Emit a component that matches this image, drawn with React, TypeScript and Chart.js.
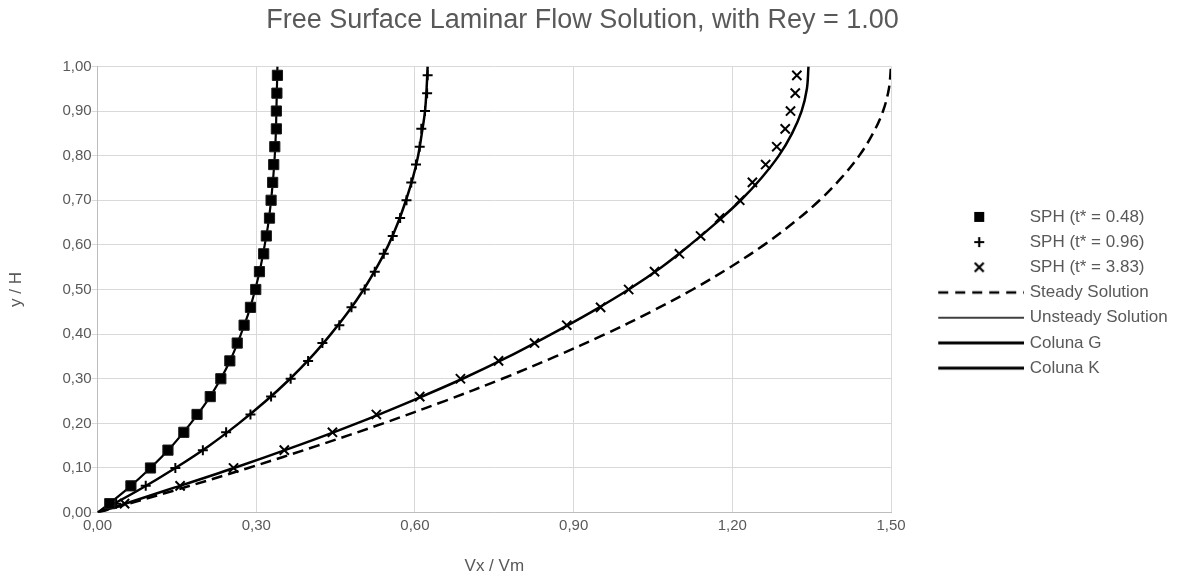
import React, { useEffect, useRef } from 'react';
import { Chart, registerables } from 'chart.js';

Chart.register(...registerables);

// ---- Data ----
const chartTitle = 'Free Surface Laminar Flow Solution, with Rey = 1.00';
const xTitle = 'Vx / Vm';
const yTitle = 'y / H';

const xTicks = [0, 0.3, 0.6, 0.9, 1.2, 1.5];
const yTicks = [0, 0.1, 0.2, 0.3, 0.4, 0.5, 0.6, 0.7, 0.8, 0.9, 1.0];

const etaMarkers = [0.02, 0.06, 0.10, 0.14, 0.18, 0.22, 0.26, 0.30, 0.34, 0.38, 0.42, 0.46, 0.50,
  0.54, 0.58, 0.62, 0.66, 0.70, 0.74, 0.78, 0.82, 0.86, 0.90, 0.94, 0.98];

const sph048 = [0.023, 0.063, 0.100, 0.133, 0.163, 0.188, 0.213, 0.233, 0.250, 0.264, 0.277, 0.289, 0.299,
  0.306, 0.314, 0.319, 0.325, 0.328, 0.331, 0.333, 0.335, 0.338, 0.338, 0.339, 0.340];
const sph096 = [0.035, 0.091, 0.147, 0.199, 0.243, 0.289, 0.328, 0.365, 0.398, 0.425, 0.457, 0.480, 0.505,
  0.524, 0.541, 0.558, 0.572, 0.584, 0.593, 0.602, 0.609, 0.612, 0.619, 0.623, 0.624];
const sph383 = [0.051, 0.156, 0.257, 0.353, 0.444, 0.527, 0.609, 0.686, 0.758, 0.826, 0.887, 0.951, 1.004,
  1.053, 1.100, 1.140, 1.176, 1.214, 1.238, 1.263, 1.284, 1.300, 1.310, 1.319, 1.322];

const etaCurve = [0, 0.05, 0.10, 0.15, 0.20, 0.25, 0.30, 0.35, 0.40, 0.45, 0.50,
  0.55, 0.60, 0.65, 0.70, 0.75, 0.80, 0.85, 0.90, 0.95, 1.00];

const steady = [0, 0.146, 0.285, 0.416, 0.540, 0.656, 0.765, 0.866, 0.960, 1.046, 1.125,
  1.196, 1.260, 1.316, 1.365, 1.406, 1.440, 1.466, 1.485, 1.496, 1.500];
const unsteady = [0, 0.053, 0.100, 0.141, 0.176, 0.207, 0.233, 0.254, 0.271, 0.286, 0.298,
  0.308, 0.316, 0.323, 0.328, 0.332, 0.335, 0.337, 0.338, 0.339, 0.340];
const colunaG = [0, 0.077, 0.147, 0.211, 0.267, 0.318, 0.364, 0.405, 0.441, 0.474, 0.503,
  0.528, 0.550, 0.568, 0.583, 0.596, 0.606, 0.613, 0.619, 0.622, 0.624];
const colunaK = [0, 0.130, 0.258, 0.378, 0.490, 0.593, 0.690, 0.778, 0.858, 0.934, 1.004,
  1.066, 1.120, 1.170, 1.216, 1.255, 1.288, 1.313, 1.331, 1.341, 1.344];

const seriesLabels = ['SPH (t* = 0.48)', 'SPH (t* = 0.96)', 'SPH (t* = 3.83)',
  'Steady Solution', 'Unsteady Solution', 'Coluna G', 'Coluna K'];

// ---- helpers ----
const FONT = "'Liberation Sans', Arial, sans-serif";
const TEXT = '#595959';
const fmt = (v: number) => v.toFixed(2).replace('.', ',');
const pts = (xs: number[], ys: number[]) => xs.map((x, i) => ({ x, y: ys[i] }));

function legendImage(kind: string): HTMLCanvasElement {
  const c = document.createElement('canvas');
  c.width = 90;
  c.height = 18;
  const g = c.getContext('2d')!;
  const cx = 45, cy = 9;
  g.strokeStyle = '#000';
  g.fillStyle = '#000';
  if (kind === 'rect') {
    g.fillRect(cx - 5, cy - 5, 10, 10);
  } else if (kind === 'plus') {
    g.lineWidth = 2.2;
    g.beginPath();
    g.moveTo(cx - 5, cy); g.lineTo(cx + 5, cy);
    g.moveTo(cx, cy - 5); g.lineTo(cx, cy + 5);
    g.stroke();
  } else if (kind === 'x') {
    g.lineWidth = 2.2;
    g.beginPath();
    g.moveTo(cx - 4.5, cy - 4.5); g.lineTo(cx + 4.5, cy + 4.5);
    g.moveTo(cx + 4.5, cy - 4.5); g.lineTo(cx - 4.5, cy + 4.5);
    g.stroke();
  } else {
    g.lineWidth = kind === 'dash' ? 2.5 : kind === 'thin' ? 1.6 : 3;
    if (kind === 'dash') g.setLineDash([10, 7]);
    g.beginPath();
    g.moveTo(4, cy); g.lineTo(90, cy);
    g.stroke();
  }
  return c;
}

// Legend sizing: reserve a fixed right band, then place the legend items inside it.
const LEGEND_BAND = 286;
const LEGEND_OFFSET = 38;
const LEGEND_DROP = 4;
const TITLE_SHIFT = 12;

const legendPlacer = {
  id: 'legendPlacer',
  beforeLayout(chart: any) {
    const lg = chart.legend;
    if (lg && !lg.__patched) {
      const orig = lg.fit.bind(lg);
      lg.fit = function () {
        orig();
        this.width = LEGEND_BAND;
      };
      lg.__patched = true;
    }
  },
  afterLayout(chart: any) {
    const lg = chart.legend;
    if (lg) {
      lg.left = chart.chartArea.right + LEGEND_OFFSET;
      lg.right = lg.left + LEGEND_BAND;
      lg.top += LEGEND_DROP;
      lg.bottom += LEGEND_DROP;
    }
    const tb = chart.titleBlock;
    if (tb) {
      tb.right -= TITLE_SHIFT;
    }
  },
};

export default function App() {
  const ref = useRef<HTMLCanvasElement | null>(null);

  useEffect(() => {
    if (!ref.current) return;
    const imgs = ['rect', 'plus', 'x', 'dash', 'thin', 'thick', 'thick'].map(legendImage);

    const lineDs = (label: string, ys: number[], width: number, dash: number[] = []) => ({
      label,
      data: pts(ys, etaCurve),
      showLine: true,
      borderColor: '#000',
      backgroundColor: '#000',
      borderWidth: width,
      borderDash: dash,
      pointRadius: 0,
      tension: 0.35,
    });

    const chart = new Chart(ref.current, {
      type: 'scatter',
      plugins: [legendPlacer],
      data: {
        datasets: [
          {
            label: seriesLabels[0], data: pts(sph048, etaMarkers), showLine: false,
            pointStyle: 'rect', pointRadius: 7.2, backgroundColor: '#000', borderColor: '#1a1a1a', borderWidth: 1,
          },
          {
            label: seriesLabels[1], data: pts(sph096, etaMarkers), showLine: false,
            pointStyle: 'cross', pointRadius: 5, backgroundColor: '#000', borderColor: '#000', borderWidth: 2,
          },
          {
            label: seriesLabels[2], data: pts(sph383, etaMarkers), showLine: false,
            pointStyle: 'crossRot', pointRadius: 6.5, backgroundColor: '#000', borderColor: '#000', borderWidth: 2,
          },
          lineDs(seriesLabels[3], steady, 2.5, [11, 6]),
          lineDs(seriesLabels[4], unsteady, 2.2),
          lineDs(seriesLabels[5], colunaG, 2.5),
          lineDs(seriesLabels[6], colunaK, 2.5),
        ] as any,
      },
      options: {
        responsive: false,
        animation: false,
        events: [],
        layout: { padding: { left: 0, right: 0, top: 0, bottom: 0 } },
        scales: {
          x: {
            type: 'linear',
            min: 0,
            max: 1.5,
            afterBuildTicks: (s: any) => { s.ticks = xTicks.map((v) => ({ value: v })); },
            grid: { color: '#d9d9d9', drawTicks: false },
            border: { color: '#bdbdbd' },
            ticks: { color: TEXT, font: { family: FONT, size: 15 }, padding: 4, callback: (v: any) => fmt(Number(v)), maxRotation: 0 },
            title: { display: true, text: xTitle, color: TEXT, font: { family: FONT, size: 17 }, padding: { top: 18, bottom: 0 } },
          },
          y: {
            type: 'linear',
            min: 0,
            max: 1,
            afterBuildTicks: (s: any) => { s.ticks = yTicks.map((v) => ({ value: v })); },
            grid: { color: '#d9d9d9', drawTicks: true, tickLength: 6 },
            border: { color: '#bdbdbd' },
            ticks: { color: TEXT, font: { family: FONT, size: 15 }, padding: 0, callback: (v: any) => fmt(Number(v)) },
            title: { display: true, text: yTitle, color: TEXT, font: { family: FONT, size: 17 }, padding: { top: 6, bottom: 36 } },
          },
        } as any,
        plugins: {
          title: {
            display: true,
            text: chartTitle,
            color: TEXT,
            font: { family: FONT, size: 27, weight: 'normal' },
            padding: { top: 4, bottom: 30 },
          },
          legend: {
            display: true,
            position: 'right',
            align: 'center',
            labels: {
              usePointStyle: true,
              pointStyleWidth: 84,
              color: TEXT,
              font: { family: FONT, size: 17 },
              padding: 8.2,
              generateLabels: (ch: any) => {
                const items = Chart.defaults.plugins.legend.labels.generateLabels(ch);
                items.forEach((it: any, i: number) => {
                  it.pointStyle = imgs[i];
                  it.rotation = 0;
                });
                return items;
              },
            },
          },
          tooltip: { enabled: false },
        },
      } as any,
    });
    return () => chart.destroy();
  }, []);

  return (
    <div style={{ position: 'absolute', left: 0, top: 0, width: 1177, height: 577, background: '#fff' }}>
      <canvas ref={ref} width={1177} height={577} style={{ display: 'block' }} />
    </div>
  );
}
